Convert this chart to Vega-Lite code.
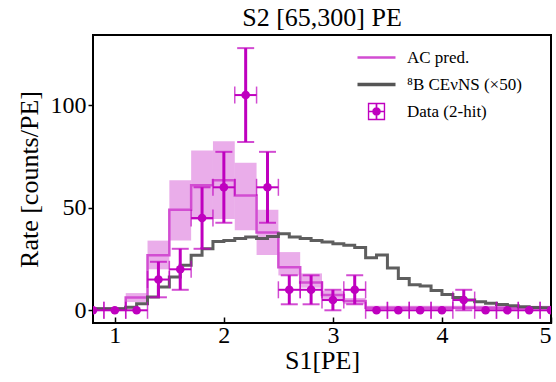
{
  "$schema": "https://vega.github.io/schema/vega-lite/v6.json",
  "width": 458,
  "height": 288,
  "autosize": {"type": "none"},
  "padding": {"left": 93, "top": 35, "right": 5, "bottom": 59},
  "background": "white",
  "config": {
    "font": "Liberation Serif",
    "view": {"stroke": "black", "strokeWidth": 2},
    "axis": {"labelFont": "Liberation Serif", "titleFont": "Liberation Serif", "labelColor": "black", "titleColor": "black", "tickColor": "black", "grid": false, "domain": false, "labelFontSize": 24, "titleFontSize": 26, "titleFontWeight": "normal", "tickWidth": 1.5}
  },
  "title": {"text": "S2 [65,300] PE", "font": "Liberation Serif", "fontSize": 26, "fontWeight": "normal", "color": "black", "offset": 4, "anchor": "middle"},
  "datasets": {
    "band": [
      {"x0": 0.7, "x1": 0.9, "lo": 0.2, "hi": 1.6},
      {"x0": 0.9, "x1": 1.1, "lo": 0.2, "hi": 1.6},
      {"x0": 1.1, "x1": 1.3, "lo": 4, "hi": 8.4},
      {"x0": 1.3, "x1": 1.5, "lo": 20, "hi": 34},
      {"x0": 1.5, "x1": 1.7, "lo": 34, "hi": 63.5},
      {"x0": 1.7, "x1": 1.9, "lo": 44, "hi": 78},
      {"x0": 1.9, "x1": 2.1, "lo": 44.5, "hi": 82.5},
      {"x0": 2.1, "x1": 2.3, "lo": 39, "hi": 72},
      {"x0": 2.3, "x1": 2.5, "lo": 27, "hi": 49},
      {"x0": 2.5, "x1": 2.7, "lo": 17, "hi": 28.4},
      {"x0": 2.7, "x1": 2.9, "lo": 11, "hi": 18},
      {"x0": 2.9, "x1": 3.1, "lo": 5.5, "hi": 9.5},
      {"x0": 3.1, "x1": 3.3, "lo": 3, "hi": 6},
      {"x0": 3.3, "x1": 5.1, "lo": 0.5, "hi": 2.2}
    ],
    "acline": [
      {"x": 0.7, "y": 0.8, "series": "AC pred."},
      {"x": 0.9, "y": 0.8, "series": "AC pred."},
      {"x": 1.1, "y": 6.2, "series": "AC pred."},
      {"x": 1.3, "y": 26.8, "series": "AC pred."},
      {"x": 1.5, "y": 49, "series": "AC pred."},
      {"x": 1.7, "y": 61, "series": "AC pred."},
      {"x": 1.9, "y": 63.5, "series": "AC pred."},
      {"x": 2.1, "y": 56, "series": "AC pred."},
      {"x": 2.3, "y": 38, "series": "AC pred."},
      {"x": 2.5, "y": 21, "series": "AC pred."},
      {"x": 2.7, "y": 13.5, "series": "AC pred."},
      {"x": 2.9, "y": 7.5, "series": "AC pred."},
      {"x": 3.1, "y": 4.5, "series": "AC pred."},
      {"x": 3.3, "y": 1.3, "series": "AC pred."},
      {"x": 5.1, "y": 1.3, "series": "AC pred."}
    ],
    "cevns": [
      {"x": 0.7, "y": 0.8}, {"x": 1.1, "y": 1.5}, {"x": 1.2, "y": 3.2}, {"x": 1.3, "y": 6.5},
      {"x": 1.4, "y": 11.4}, {"x": 1.5, "y": 16.2}, {"x": 1.6, "y": 22}, {"x": 1.7, "y": 26.8},
      {"x": 1.8, "y": 30}, {"x": 1.9, "y": 33.5}, {"x": 2.0, "y": 34}, {"x": 2.1, "y": 35},
      {"x": 2.2, "y": 35.8}, {"x": 2.3, "y": 35}, {"x": 2.4, "y": 36}, {"x": 2.5, "y": 37.4},
      {"x": 2.6, "y": 35.8}, {"x": 2.7, "y": 35}, {"x": 2.8, "y": 34}, {"x": 2.9, "y": 33.3},
      {"x": 3.0, "y": 32.5}, {"x": 3.1, "y": 31.7}, {"x": 3.2, "y": 30.6}, {"x": 3.3, "y": 25.6},
      {"x": 3.4, "y": 27}, {"x": 3.5, "y": 20.6}, {"x": 3.6, "y": 15.5}, {"x": 3.7, "y": 12.4},
      {"x": 3.8, "y": 11.8}, {"x": 3.9, "y": 9.6}, {"x": 4.0, "y": 7.7}, {"x": 4.1, "y": 6.2},
      {"x": 4.2, "y": 5.0}, {"x": 4.3, "y": 4.2}, {"x": 4.4, "y": 3.4}, {"x": 4.5, "y": 2.8},
      {"x": 4.6, "y": 2.2}, {"x": 4.7, "y": 1.7}, {"x": 4.8, "y": 1.4}, {"x": 4.9, "y": 1.3},
      {"x": 5.1, "y": 1.3}
    ],
    "pts": [
      {"x": 0.8, "xlo": 0.7, "xhi": 0.9, "y": 0, "ylo": 0, "yhi": 0, "series": "Data (2-hit)"},
      {"x": 1.0, "xlo": 0.9, "xhi": 1.1, "y": 0, "ylo": 0, "yhi": 0, "series": "Data (2-hit)"},
      {"x": 1.2, "xlo": 1.1, "xhi": 1.3, "y": 0, "ylo": 0, "yhi": 0, "series": "Data (2-hit)"},
      {"x": 1.4, "xlo": 1.3, "xhi": 1.5, "y": 15, "ylo": 6.34, "yhi": 23.66, "series": "Data (2-hit)"},
      {"x": 1.6, "xlo": 1.5, "xhi": 1.7, "y": 20, "ylo": 10, "yhi": 30, "series": "Data (2-hit)"},
      {"x": 1.8, "xlo": 1.7, "xhi": 1.9, "y": 45, "ylo": 30, "yhi": 60, "series": "Data (2-hit)"},
      {"x": 2.0, "xlo": 1.9, "xhi": 2.1, "y": 60, "ylo": 42.7, "yhi": 77.3, "series": "Data (2-hit)"},
      {"x": 2.2, "xlo": 2.1, "xhi": 2.3, "y": 105, "ylo": 82.1, "yhi": 127.9, "series": "Data (2-hit)"},
      {"x": 2.4, "xlo": 2.3, "xhi": 2.5, "y": 60, "ylo": 42.7, "yhi": 77.3, "series": "Data (2-hit)"},
      {"x": 2.6, "xlo": 2.5, "xhi": 2.7, "y": 10, "ylo": 2.93, "yhi": 17.07, "series": "Data (2-hit)"},
      {"x": 2.8, "xlo": 2.7, "xhi": 2.9, "y": 10, "ylo": 2.93, "yhi": 17.07, "series": "Data (2-hit)"},
      {"x": 3.0, "xlo": 2.9, "xhi": 3.1, "y": 5, "ylo": 0, "yhi": 10, "series": "Data (2-hit)"},
      {"x": 3.2, "xlo": 3.1, "xhi": 3.3, "y": 10, "ylo": 2.93, "yhi": 17.07, "series": "Data (2-hit)"},
      {"x": 3.4, "xlo": 3.3, "xhi": 3.5, "y": 0, "ylo": 0, "yhi": 0, "series": "Data (2-hit)"},
      {"x": 3.6, "xlo": 3.5, "xhi": 3.7, "y": 0, "ylo": 0, "yhi": 0, "series": "Data (2-hit)"},
      {"x": 3.8, "xlo": 3.7, "xhi": 3.9, "y": 0, "ylo": 0, "yhi": 0, "series": "Data (2-hit)"},
      {"x": 4.0, "xlo": 3.9, "xhi": 4.1, "y": 0, "ylo": 0, "yhi": 0, "series": "Data (2-hit)"},
      {"x": 4.2, "xlo": 4.1, "xhi": 4.3, "y": 5, "ylo": 0, "yhi": 10, "series": "Data (2-hit)"},
      {"x": 4.4, "xlo": 4.3, "xhi": 4.5, "y": 0, "ylo": 0, "yhi": 0, "series": "Data (2-hit)"},
      {"x": 4.6, "xlo": 4.5, "xhi": 4.7, "y": 0, "ylo": 0, "yhi": 0, "series": "Data (2-hit)"},
      {"x": 4.8, "xlo": 4.7, "xhi": 4.9, "y": 0, "ylo": 0, "yhi": 0, "series": "Data (2-hit)"},
      {"x": 5.0, "xlo": 4.9, "xhi": 5.1, "y": 0, "ylo": 0, "yhi": 0, "series": "Data (2-hit)"}
    ]
  },
  "encoding": {
    "x": {"type": "quantitative", "scale": {"domain": [0.8, 5.0], "nice": false, "zero": false},
          "axis": {"title": "S1[PE]", "values": [1, 2, 3, 4, 5], "format": "d", "tickSize": -6, "labelPadding": 6, "titlePadding": 0}},
    "y": {"type": "quantitative", "scale": {"domain": [-6.2, 134.3], "nice": false, "zero": false},
          "axis": {"title": "Rate [counts/PE]", "values": [0, 50, 100], "tickSize": 5, "labelPadding": 2, "titlePadding": 8}}
  },
  "layer": [
    {
      "data": {"name": "band"},
      "mark": {"type": "rect", "color": "#bf00bf", "opacity": 0.32, "clip": true},
      "encoding": {"x": {"field": "x0"}, "x2": {"field": "x1"}, "y": {"field": "lo"}, "y2": {"field": "hi"}}
    },
    {
      "data": {"name": "acline"},
      "mark": {"type": "line", "interpolate": "step-after", "strokeWidth": 2.5, "clip": true},
      "encoding": {
        "x": {"field": "x"}, "y": {"field": "y"},
        "color": {"field": "series", "type": "nominal",
          "scale": {"domain": ["AC pred.", "⁸B CEνNS (×50)", "Data (2-hit)"], "range": ["#d24dd2", "#555555", "#bf00bf"]},
          "legend": {
            "title": null, "orient": "none", "legendX": 275, "legendY": 14, "padding": 0,
            "labelFont": "Liberation Serif", "labelFontSize": 17, "labelColor": "black", "labelOffset": 22,
            "rowPadding": 9, "symbolSize": 1444,
            "encode": {
              "symbols": {"update": {
                "shape": {"signal": "datum.value === 'Data (2-hit)' ? 'M-1,-1H1V-0.84H-1Z M-1,0.84H1V1H-1Z M-1,-1H-0.84V1H-1Z M0.84,-1H1V1H0.84Z M-1,-0.1H1V0.1H-1Z M-0.1,-1H0.1V1H-0.1Z M0.5,0L0.433,0.25L0.25,0.433L0,0.5L-0.25,0.433L-0.433,0.25L-0.5,0L-0.433,-0.25L-0.25,-0.433L0,-0.5L0.25,-0.433L0.433,-0.25Z' : 'stroke'"},
                "size": {"signal": "datum.value === 'Data (2-hit)' ? 300 : 1444"},
                "fill": {"signal": "datum.value === 'Data (2-hit)' ? '#c21ac2' : 'transparent'"},
                "stroke": {"signal": "datum.value === 'Data (2-hit)' ? 'transparent' : (datum.value === 'AC pred.' ? '#d24dd2' : '#555555')"},
                "strokeWidth": {"signal": "datum.value === 'AC pred.' ? 2.5 : (datum.value === 'Data (2-hit)' ? 0 : 3.5)"},
                "opacity": {"value": 1}
              }}
            }
          }}
      }
    },
    {
      "data": {"name": "cevns"},
      "mark": {"type": "line", "interpolate": "step-after", "strokeWidth": 3, "color": "#555555", "opacity": 0.95, "clip": true},
      "encoding": {"x": {"field": "x"}, "y": {"field": "y"}}
    },
    {
      "data": {"name": "pts"},
      "mark": {"type": "rule", "color": "#bf00bf", "strokeWidth": 2, "clip": true},
      "encoding": {"x": {"field": "xlo"}, "x2": {"field": "xhi"}, "y": {"field": "y"}}
    },
    {
      "data": {"name": "pts"},
      "mark": {"type": "tick", "orient": "vertical", "color": "#bf00bf", "size": 17, "thickness": 1.5, "clip": true},
      "encoding": {"x": {"field": "xlo"}, "y": {"field": "y"}}
    },
    {
      "data": {"name": "pts"},
      "mark": {"type": "tick", "orient": "vertical", "color": "#bf00bf", "size": 17, "thickness": 1.5, "clip": true},
      "encoding": {"x": {"field": "xhi"}, "y": {"field": "y"}}
    },
    {
      "data": {"name": "pts"},
      "transform": [{"filter": "datum.yhi > datum.y"}],
      "mark": {"type": "rule", "color": "#bf00bf", "strokeWidth": 3, "clip": true},
      "encoding": {"x": {"field": "x"}, "y": {"field": "ylo"}, "y2": {"field": "yhi"}}
    },
    {
      "data": {"name": "pts"},
      "transform": [{"filter": "datum.yhi > datum.y"}],
      "mark": {"type": "tick", "orient": "horizontal", "color": "#bf00bf", "size": 17, "thickness": 2, "clip": true},
      "encoding": {"x": {"field": "x"}, "y": {"field": "ylo"}}
    },
    {
      "data": {"name": "pts"},
      "transform": [{"filter": "datum.yhi > datum.y"}],
      "mark": {"type": "tick", "orient": "horizontal", "color": "#bf00bf", "size": 17, "thickness": 2, "clip": true},
      "encoding": {"x": {"field": "x"}, "y": {"field": "yhi"}}
    },
    {
      "data": {"name": "pts"},
      "mark": {"type": "circle", "size": 75, "opacity": 1, "clip": true},
      "encoding": {"x": {"field": "x"}, "y": {"field": "y"}, "color": {"field": "series", "type": "nominal"}}
    }
  ]
}
